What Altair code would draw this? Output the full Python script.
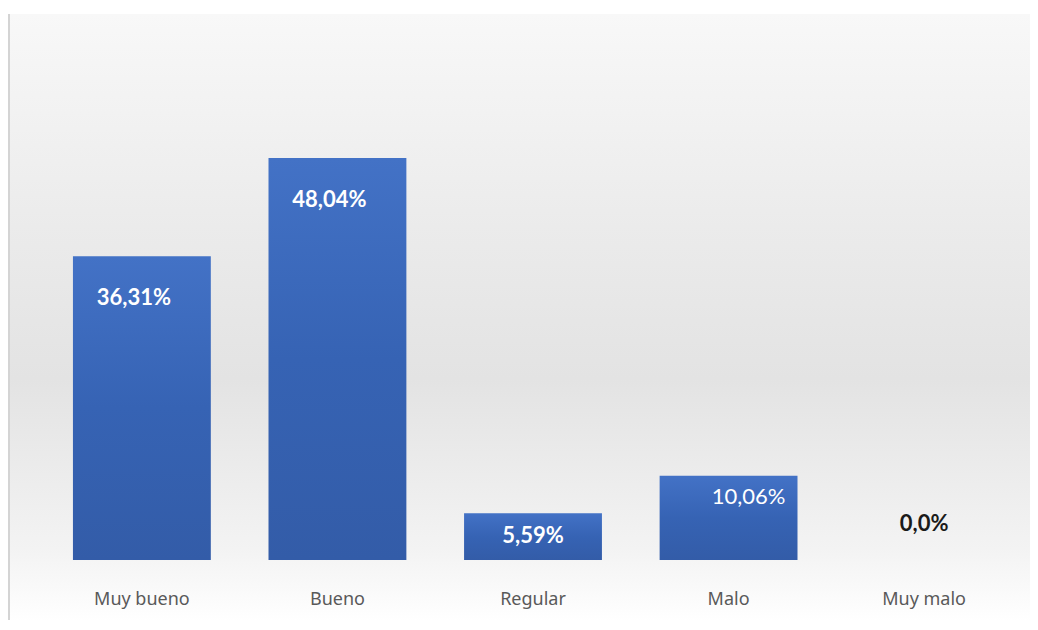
import altair as alt
import pandas as pd

categories = ["Muy bueno", "Bueno", "Regular", "Malo", "Muy malo"]
values = [36.31, 48.04, 5.59, 10.06, 0.0]
labels = ["36,31%", "48,04%", "5,59%", "10,06%", "0,0%"]

df = pd.DataFrame({"cat": categories, "val": values, "lab": labels})

W, H = 978, 502

x_enc = alt.X("cat:N", sort=categories, title=None,
              scale=alt.Scale(paddingInner=0.295, paddingOuter=0.148),
              axis=alt.Axis(labelAngle=0, ticks=False, domain=False, labelPadding=30, zindex=2,
                            labelFont="Noto Sans", labelFontSize=18, labelColor="#595959"))
y_enc = alt.Y("val:Q", title=None, scale=alt.Scale(domain=[0, 60]), axis=None)

bg_grad = alt.Gradient(gradient="linear", x1=0, x2=0, y1=0, y2=1, stops=[
    alt.GradientStop(color="#f8f8f8", offset=0),
    alt.GradientStop(color="#ebebeb", offset=0.35),
    alt.GradientStop(color="#e3e3e3", offset=0.6),
    alt.GradientStop(color="#f3f3f3", offset=0.88),
    alt.GradientStop(color="#ffffff", offset=1),
])

bg = alt.Chart(pd.DataFrame({"k": [0]})).mark_rect(color=bg_grad).encode(
    x=alt.value(-34), x2=alt.value(W + 8), y=alt.value(-44), y2=alt.value(H + 62)
)
border = alt.Chart(pd.DataFrame({"k": [0]})).mark_rule(color="#d4d4d4", strokeWidth=2).encode(
    x=alt.value(-35), y=alt.value(-44), y2=alt.value(H + 62)
)

bar_grad = alt.Gradient(gradient="linear", x1=0, x2=0, y1=0, y2=1, stops=[
    alt.GradientStop(color="#4372c6", offset=0),
    alt.GradientStop(color="#3663b4", offset=0.5),
    alt.GradientStop(color="#335ca8", offset=1),
])

bars = alt.Chart(df).mark_bar(color=bar_grad).encode(x=x_enc, y=y_enc)

base_txt = alt.Chart(df).encode(x=x_enc, y=y_enc, text="lab:N")
tall = base_txt.transform_filter("datum.val >= 20").mark_text(
    font="Lato", fontSize=22, fontWeight="bold", color="white", baseline="middle", dy=42, dx=-8)
reg = base_txt.transform_filter("datum.cat == 'Regular'").mark_text(
    font="Lato", fontSize=22, fontWeight="bold", color="white", baseline="middle", dy=23)
malo = base_txt.transform_filter("datum.cat == 'Malo'").mark_text(
    font="Lato", fontSize=22, color="white", baseline="middle", dy=21, dx=20)
zero = base_txt.transform_filter("datum.val == 0").mark_text(
    font="Lato", fontSize=22, fontWeight="bold", color="#1a1a1a", baseline="middle", dy=-36)

chart = alt.layer(bg, border, bars, tall, reg, malo, zero).properties(
    width=W, height=H,
    autosize=alt.AutoSizeParams(type="none"),
    padding={"left": 36, "top": 50, "right": 8, "bottom": 60},
    background="white",
).configure_view(stroke=None)

chart.save("out.html", embed_options={"renderer": "svg", "actions": False})
